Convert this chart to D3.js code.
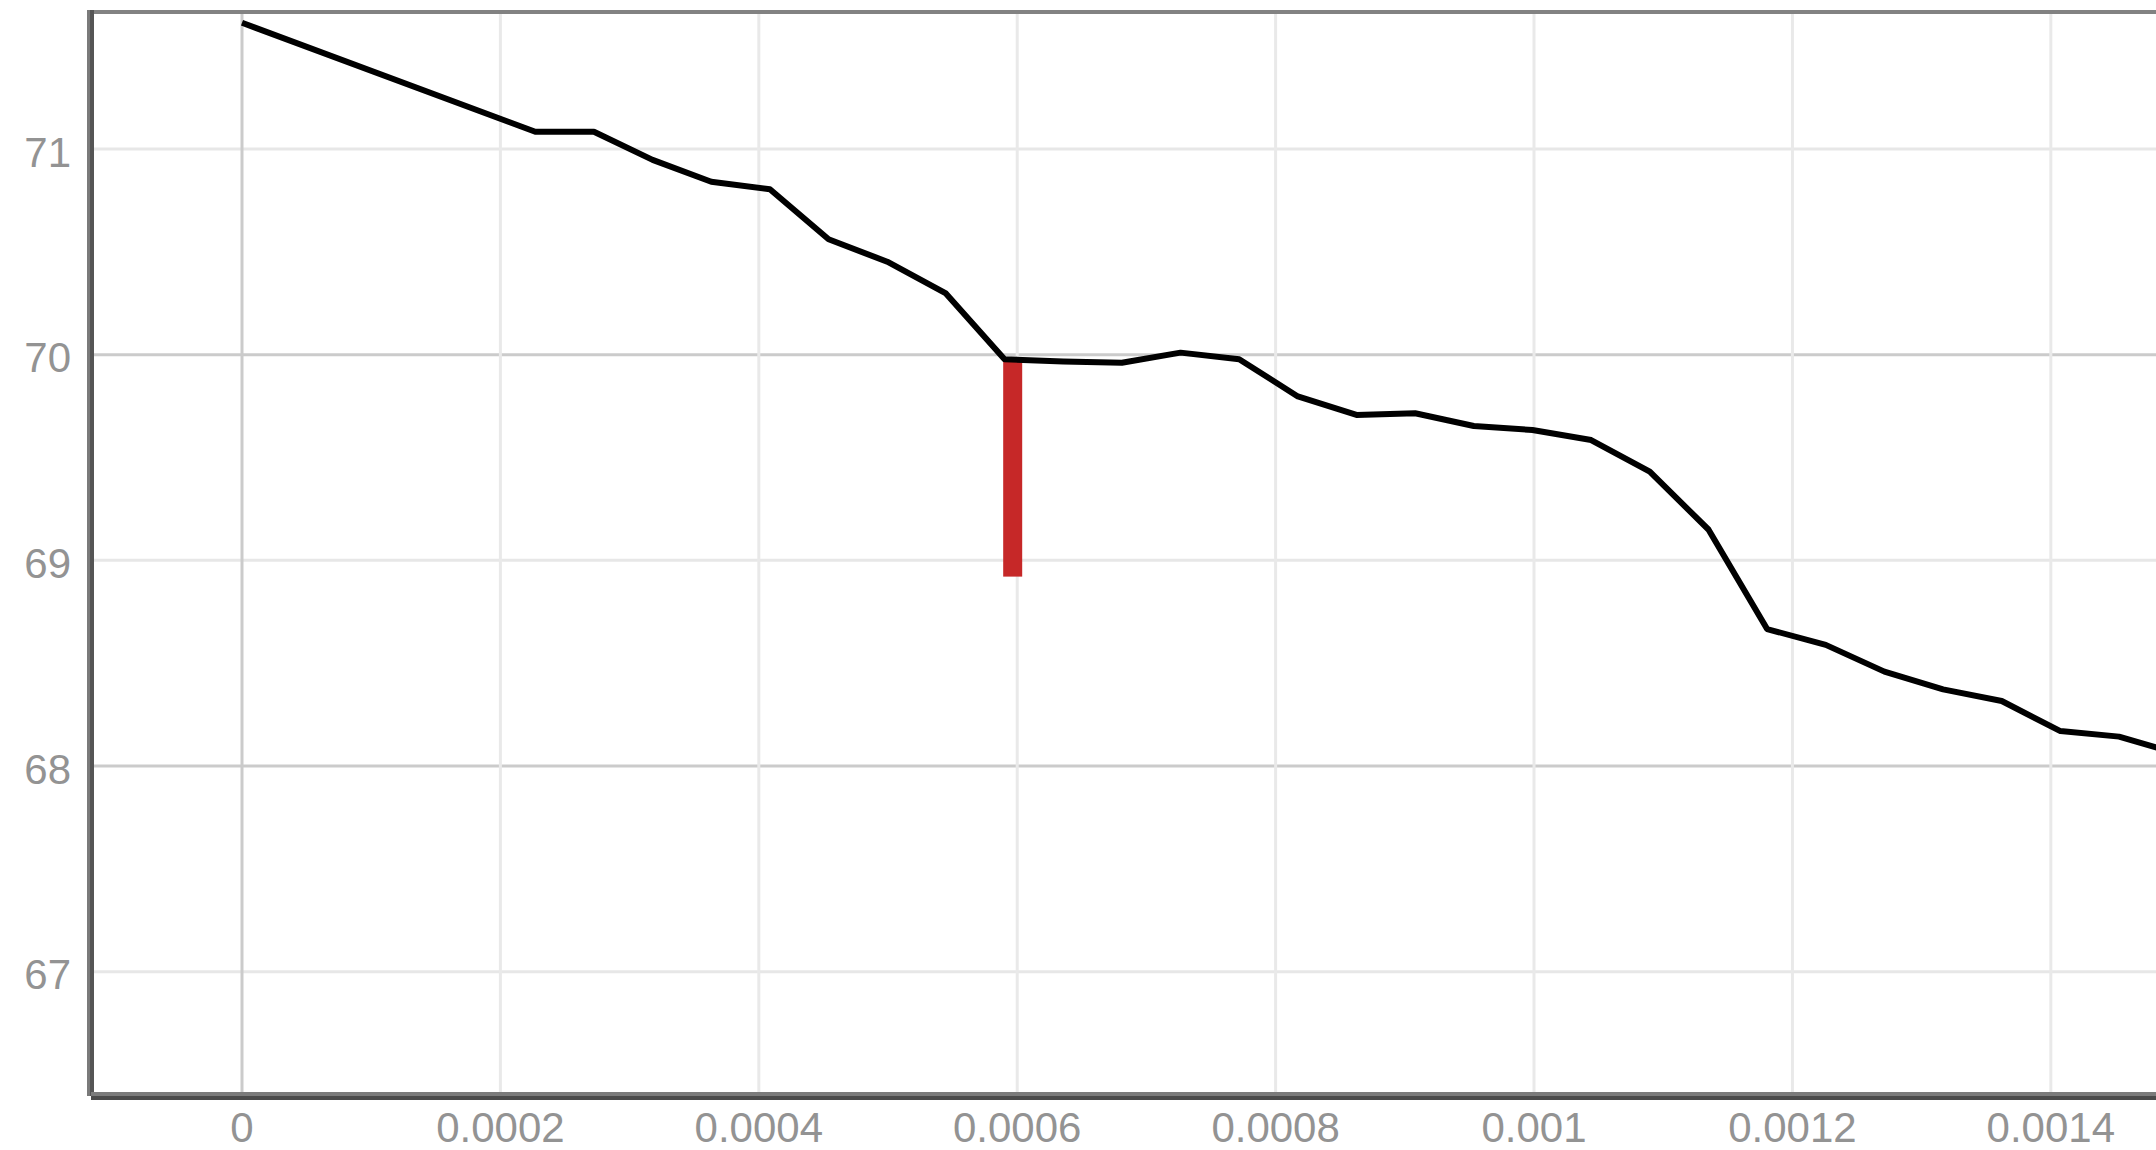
<!DOCTYPE html>
<html>
<head>
<meta charset="utf-8">
<script src="https://cdn.jsdelivr.net/npm/d3@7"></script>
<style>
  html, body { margin: 0; padding: 0; background: #ffffff; }
  svg { display: block; }
</style>
</head>
<body>
<svg id="chart" width="2156" height="1150"></svg>
<script>
// ---- data ----
const xValues = [0, 0.000227, 0.0002724, 0.0003178, 0.0003632, 0.0004086, 0.000454, 0.0004994,
  0.0005448, 0.0005902, 0.0006356, 0.000681, 0.0007264, 0.0007718, 0.0008172, 0.0008626,
  0.000908, 0.0009534, 0.0009988, 0.0010442, 0.0010896, 0.001135, 0.0011804, 0.0012258,
  0.0012712, 0.0013166, 0.001362, 0.0014074, 0.0014528, 0.0014982];
const yValues = [71.614, 71.084, 71.084, 70.947, 70.841, 70.804, 70.561, 70.452,
  70.298, 69.978, 69.967, 69.961, 70.010, 69.978, 69.797, 69.707,
  69.715, 69.653, 69.634, 69.585, 69.431, 69.150, 68.666, 68.589,
  68.459, 68.373, 68.316, 68.170, 68.143, 68.060];
const barX = [0.0005965];
const barTop = [69.966];
const barBottom = [68.921];
const xTicks = [0, 0.0002, 0.0004, 0.0006, 0.0008, 0.001, 0.0012, 0.0014];
const xTickLabels = ["0", "0.0002", "0.0004", "0.0006", "0.0008", "0.001", "0.0012", "0.0014"];
const yTicks = [67, 68, 69, 70, 71];
const yTickLabels = ["67", "68", "69", "70", "71"];
const xDomain = [-0.00011687, 0.0014814];
const yDomain = [66.3957, 71.671];

(function () {
  const pl = 91, pr = 2156, pt = 11, pb = 1096;
  const svg = d3.select("#chart");
  const x = d3.scaleLinear().domain(xDomain).range([pl, pr]);
  const y = d3.scaleLinear().domain(yDomain).range([pb, pt]);

  svg.append("defs").append("clipPath").attr("id", "plotclip")
    .append("rect").attr("x", pl).attr("y", pt).attr("width", pr - pl).attr("height", pb - pt);

  // grid
  const grid = svg.append("g");
  grid.selectAll("line.hg").data(yTicks).enter().append("line")
    .attr("x1", pl + 3).attr("x2", pr)
    .attr("y1", d => y(d)).attr("y2", d => y(d))
    .attr("stroke", d => d % 2 === 0 ? "#cbcbcb" : "#e7e7e7")
    .attr("stroke-width", 3);
  grid.selectAll("line.vg").data(xTicks).enter().append("line")
    .attr("x1", d => x(d)).attr("x2", d => x(d))
    .attr("y1", pt).attr("y2", pb)
    .attr("stroke", d => d === 0 ? "#cbcbcb" : "#e9e9e9")
    .attr("stroke-width", 3);

  // red bar
  svg.append("g").selectAll("rect").data(barX).enter().append("rect")
    .attr("x", d => x(d) - 9.5)
    .attr("width", 19)
    .attr("y", (d, i) => y(barTop[i]))
    .attr("height", (d, i) => y(barBottom[i]) - y(barTop[i]))
    .attr("fill", "#c62828");

  // line
  const pts = xValues.map((v, i) => [v, yValues[i]]);
  svg.append("path")
    .datum(pts)
    .attr("clip-path", "url(#plotclip)")
    .attr("d", d3.line().x(d => x(d[0])).y(d => y(d[1])))
    .attr("fill", "none")
    .attr("stroke", "#000000")
    .attr("stroke-width", 6)
    .attr("stroke-linejoin", "round");

  // frame: top border, left axis, bottom axis
  svg.append("rect").attr("x", pl).attr("y", 10).attr("width", pr - pl).attr("height", 4).attr("fill", "#828282");
  svg.append("rect").attr("x", 87).attr("y", 10).attr("width", 3).attr("height", 1086).attr("fill", "#7a7a7a");
  svg.append("rect").attr("x", 90).attr("y", 10).attr("width", 4).attr("height", 1086).attr("fill", "#555555");
  svg.append("rect").attr("x", pl).attr("y", 1092).attr("width", pr - pl).attr("height", 4).attr("fill", "#7b7b7b");
  svg.append("rect").attr("x", pl).attr("y", 1096).attr("width", pr - pl).attr("height", 4).attr("fill", "#4b4b4b");

  // tick labels
  const font = "'Liberation Sans', Arial, sans-serif";
  svg.append("g").selectAll("text").data(xTicks).enter().append("text")
    .attr("x", d => x(d)).attr("y", 1142)
    .attr("text-anchor", "middle")
    .attr("font-family", font).attr("font-size", 42)
    .attr("fill", "#939393")
    .text((d, i) => xTickLabels[i]);
  svg.append("g").selectAll("text").data(yTicks).enter().append("text")
    .attr("x", 71).attr("y", d => y(d) + 17.5)
    .attr("text-anchor", "end")
    .attr("font-family", font).attr("font-size", 42)
    .attr("fill", "#939393")
    .text((d, i) => yTickLabels[i]);
})();
</script>
</body>
</html>
